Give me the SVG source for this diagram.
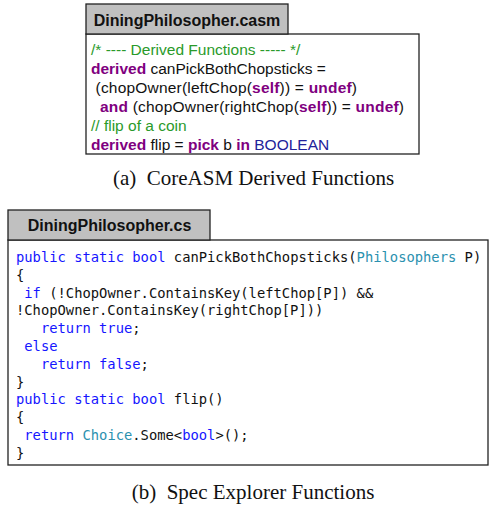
<svg xmlns="http://www.w3.org/2000/svg" width="490" height="505" viewBox="0 0 490 505">
<style>
.tab{fill:#c0c0c0;stroke:#222;stroke-width:1.3}
.box{fill:#fff;stroke:#222;stroke-width:1.3}
.tabt{font-family:"Liberation Sans",Arial,sans-serif;font-weight:bold;font-size:16px;fill:#111;text-anchor:middle}
.asm{font-family:"Liberation Sans",Arial,sans-serif;font-size:15.5px;fill:#111;white-space:pre}
.kw{font-weight:bold;fill:#7f007f}
.cm{fill:#2a9a2a}
.ty{fill:#22229a}
.cs{font-family:"DejaVu Sans Mono","Liberation Mono",monospace;font-size:13.8px;fill:#111;white-space:pre}
.b{fill:#1515ff}
.t{fill:#2b91af}
.cap{font-family:"Liberation Serif","Times New Roman",serif;font-size:21px;fill:#111;text-anchor:middle;white-space:pre}
</style>
<g id="casm">
<rect class="box" x="86" y="34" width="333" height="120"/>
<rect class="tab" x="86" y="4" width="202" height="30"/>
<text class="tabt" x="187" y="25.5">DiningPhilosopher.casm</text>
<text class="asm" x="91" y="55"><tspan class="cm">/* ---- Derived Functions ----- */</tspan></text>
<text class="asm" x="91" y="74"><tspan class="kw">derived</tspan> canPickBothChopsticks =</text>
<text class="asm" x="91" y="93" textLength="266" lengthAdjust="spacing"> (chopOwner(leftChop(<tspan class="kw">self</tspan>)) = <tspan class="kw">undef</tspan>)</text>
<text class="asm" x="91" y="111.5" textLength="313" lengthAdjust="spacing">  <tspan class="kw">and</tspan> (chopOwner(rightChop(<tspan class="kw">self</tspan>)) = <tspan class="kw">undef</tspan>)</text>
<text class="asm" x="91" y="130.5"><tspan class="cm">// flip of a coin</tspan></text>
<text class="asm" x="91" y="149.5"><tspan class="kw">derived</tspan> flip = <tspan class="kw">pick</tspan> b <tspan class="kw">in</tspan> <tspan class="ty">BOOLEAN</tspan></text>
</g>
<text id="cap-a" class="cap" x="253.5" y="185">(a)  CoreASM Derived Functions</text>
<g id="cs">
<rect class="box" x="8" y="240" width="480" height="225"/>
<rect class="tab" x="8" y="210" width="202" height="30"/>
<text class="tabt" x="109.5" y="231">DiningPhilosopher.cs</text>
<text class="cs" x="16" y="262"><tspan class="b">public static bool</tspan> canPickBothChopsticks(<tspan class="t">Philosophers</tspan> P)</text>
<text class="cs" x="16" y="279.8">{</text>
<text class="cs" x="16" y="297.6"> <tspan class="b">if</tspan> (!ChopOwner.ContainsKey(leftChop[P]) &amp;&amp;</text>
<text class="cs" x="16" y="315.4">!ChopOwner.ContainsKey(rightChop[P]))</text>
<text class="cs" x="16" y="333.2">   <tspan class="b">return true</tspan>;</text>
<text class="cs" x="16" y="351"> <tspan class="b">else</tspan></text>
<text class="cs" x="16" y="368.8">   <tspan class="b">return false</tspan>;</text>
<text class="cs" x="16" y="386.6">}</text>
<text class="cs" x="16" y="404.4"><tspan class="b">public static bool</tspan> flip()</text>
<text class="cs" x="16" y="422.2">{</text>
<text class="cs" x="16" y="440"> <tspan class="b">return</tspan> <tspan class="t">Choice</tspan>.Some&lt;<tspan class="b">bool</tspan>&gt;();</text>
<text class="cs" x="16" y="457.8">}</text>
</g>
<text id="cap-b" class="cap" x="253" y="499">(b)  Spec Explorer Functions</text>
</svg>
